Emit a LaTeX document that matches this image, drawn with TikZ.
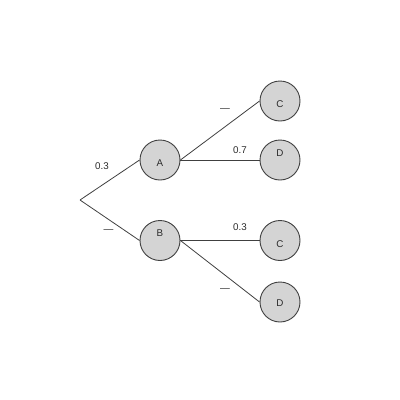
\documentclass[tikz,border=0pt]{standalone}
\usepackage{fontspec}
\setmainfont{Liberation Sans}
\definecolor{edgec}{HTML}{404040}
\definecolor{fillc}{HTML}{D4D4D4}
\definecolor{txtc}{HTML}{2B2B2B}
\begin{document}
\begin{tikzpicture}[x=1pt,y=-1pt,
  stateball/.style={circle,draw=edgec,fill=fillc,line width=0.9pt,minimum size=40pt,inner sep=0pt},
  balltext/.style={text=txtc,font=\fontsize{9.8}{11}\selectfont,inner sep=0pt},
  edgelbl/.style={text=txtc,font=\fontsize{9.8}{11}\selectfont,inner sep=0pt},
  branch/.style={draw=edgec,line width=0.8pt}]
\useasboundingbox (0,0) rectangle (400,400);
\coordinate (root) at (80,200);
\node[stateball] (A) at (160,160) {};
\node[stateball] (B) at (160,240.5) {};
\node[stateball] (C1) at (280,101) {};
\node[stateball] (D1) at (280,160) {};
\node[stateball] (C2) at (280,240.5) {};
\node[stateball] (D2) at (280,302) {};
\node[balltext] (tA) at (160,163.5) {A};
\node[balltext] (tB) at (160,233) {B};
\node[balltext] (tC1) at (280,104.5) {C};
\node[balltext] (tD1) at (280,153) {D};
\node[balltext] (tC2) at (280,244.5) {C};
\node[balltext] (tD2) at (280,303.5) {D};
\draw[branch] (root) -- (A.west);
\draw[branch] (root) -- (B.west);
\draw[branch] (A.east) -- (C1.west);
\draw[branch] (A.east) -- (D1.west);
\draw[branch] (B.east) -- (C2.west);
\draw[branch] (B.east) -- (D2.west);
\node[edgelbl] (l1) at (102,166) {0.3};
\node[edgelbl] (l2) at (108.5,231.5) {—};
\node[edgelbl] (l3) at (225,110.5) {—};
\node[edgelbl] (l4) at (240,150) {0.7};
\node[edgelbl] (l5) at (240,227) {0.3};
\node[edgelbl] (l6) at (225,290.5) {—};
\end{tikzpicture}
\end{document}
